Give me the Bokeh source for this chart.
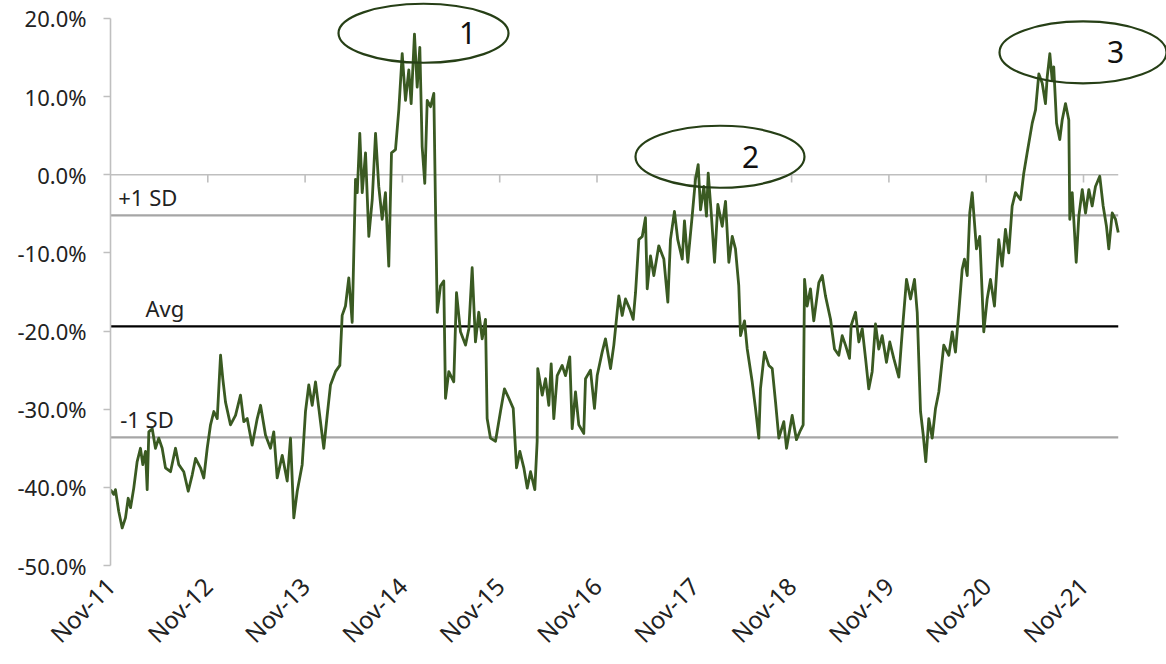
import math
from bokeh.plotting import figure
from bokeh.models import FixedTicker, PrintfTickFormatter
from bokeh.core.properties import value
from bokeh.embed import file_html
from bokeh.resources import INLINE

# ---- data (years since Nov-2011, relative valuation %) ----
t = [0.000, 0.034, 0.051, 0.085, 0.120, 0.154, 0.182, 0.206, 0.239, 0.274, 0.308, 0.332, 0.360, 0.377,
     0.394, 0.429, 0.462, 0.496, 0.531, 0.565, 0.617, 0.668, 0.702, 0.753, 0.799, 0.840, 0.874, 0.925,
     0.959, 0.994, 1.028, 1.062, 1.097, 1.131, 1.154, 1.182, 1.233, 1.285, 1.336, 1.370, 1.405, 1.456,
     1.508, 1.542, 1.593, 1.644, 1.678, 1.713, 1.765, 1.816, 1.850, 1.884, 1.919,
     1.970, 2.004, 2.038, 2.073, 2.107, 2.141, 2.192, 2.227, 2.261, 2.312, 2.357, 2.381, 2.415, 2.449,
     2.484, 2.518, 2.536, 2.562, 2.587, 2.621, 2.655, 2.690, 2.724, 2.757, 2.792, 2.826, 2.860, 2.888,
     2.929, 2.963, 2.998, 3.032, 3.066, 3.090, 3.124, 3.152, 3.179, 3.203, 3.230, 3.255, 3.289, 3.323,
     3.340, 3.358, 3.392, 3.425,
     3.443, 3.477, 3.528, 3.556, 3.597, 3.649, 3.683, 3.717, 3.751, 3.785, 3.820, 3.854, 3.871, 3.905,
     3.957, 4.008, 4.049, 4.094, 4.139, 4.173, 4.207, 4.248, 4.283, 4.317, 4.361, 4.385, 4.391, 4.437,
     4.471, 4.505, 4.529, 4.556, 4.591, 4.642, 4.676, 4.720, 4.745, 4.779, 4.813, 4.864, 4.882, 4.933,
     4.974, 5.002, 5.053, 5.087, 5.139, 5.173,
     5.224, 5.259, 5.293, 5.337, 5.372, 5.396, 5.430, 5.465, 5.498, 5.516, 5.550, 5.584, 5.635, 5.687,
     5.728, 5.755, 5.796, 5.830, 5.876, 5.899, 5.933, 5.978, 6.012, 6.040, 6.064, 6.098, 6.125, 6.143,
     6.174, 6.208, 6.242, 6.287, 6.321, 6.355, 6.390, 6.423, 6.457, 6.475, 6.516, 6.544, 6.595, 6.629,
     6.663, 6.680, 6.721, 6.766, 6.801, 6.835, 6.869,
     6.920, 6.948, 7.006, 7.050, 7.091, 7.119, 7.133, 7.160, 7.194, 7.228, 7.280, 7.315, 7.348, 7.400,
     7.441, 7.485, 7.520, 7.554, 7.595, 7.612, 7.657, 7.691, 7.726, 7.760, 7.793, 7.828, 7.862, 7.896,
     7.931, 7.975, 8.009, 8.050, 8.102, 8.137, 8.181, 8.222, 8.263, 8.291, 8.325, 8.353, 8.379, 8.410,
     8.445, 8.479, 8.513,
     8.564, 8.616, 8.651, 8.684, 8.718, 8.753, 8.777, 8.805, 8.831, 8.856, 8.872, 8.900, 8.934, 8.975,
     9.010, 9.044, 9.085, 9.129, 9.164, 9.198, 9.232, 9.267, 9.301, 9.353, 9.386, 9.421, 9.473, 9.507,
     9.541, 9.576, 9.609, 9.627, 9.654, 9.678, 9.694, 9.723, 9.756, 9.781, 9.815, 9.849, 9.859, 9.884,
     9.900, 9.925, 9.952, 9.987, 10.021, 10.055, 10.089, 10.123, 10.167, 10.202, 10.236, 10.260, 10.295,
     10.329, 10.357]

v = [-40.3, -40.9, -40.3, -43.1, -45.2, -43.9, -41.4, -42.6, -40.1, -36.7, -35.0, -37.1, -35.4, -40.3,
     -32.9, -32.5, -35.0, -33.7, -35.0, -37.5, -38.0, -35.0, -37.1, -38.0, -40.5, -38.4, -36.3, -37.5,
     -38.8, -35.0, -32.0, -30.3, -31.2, -23.1, -26.1, -29.1, -32.0, -30.8, -28.2, -31.6, -31.2, -34.6,
     -31.2, -29.5, -33.3, -35.0, -32.9, -38.8, -35.9, -39.2, -33.7, -43.9, -40.5,
     -37.1, -30.3, -26.9, -29.5, -26.5, -29.9, -35.0, -30.8, -26.9, -25.2, -24.4, -18.0, -16.8, -13.2,
     -18.9, -0.6, -2.3, 5.3, -2.3, 2.8, -7.9, -3.2, 5.3, -1.5, -5.7, -2.3, -11.7, 2.8,
     3.2, 8.3, 15.5, 9.5, 13.4, 9.1, 18.0, 11.2, 16.3, 3.6, -1.1, 9.5, 8.7, 10.4,
     -4.0, -17.6, -14.2, -13.6,
     -28.6, -25.2, -26.5, -15.1, -20.1, -21.8, -19.7, -11.9, -21.4, -17.6, -21.0, -18.5, -31.2, -33.7,
     -34.1, -30.3, -27.4, -28.6, -29.9, -37.5, -35.4, -37.5, -40.1, -38.0, -40.3, -34.1, -24.8, -28.2,
     -26.1, -29.5, -24.2, -31.2, -25.7, -24.4, -25.7, -23.3, -32.5, -27.8, -32.0, -33.1, -26.1, -25.0,
     -29.9, -25.7, -22.7, -21.0, -24.8, -21.8,
     -15.5, -18.0, -15.9, -17.2, -18.5, -15.1, -8.3, -7.9, -5.5, -14.6, -10.4, -12.9, -9.1, -10.8,
     -16.3, -8.3, -4.7, -8.3, -10.8, -5.9, -11.2, -5.3, -0.6, 1.3, -4.5, -1.5, -5.3, 0.2,
     -4.9, -11.2, -3.8, -6.6, -3.4, -11.2, -7.9, -9.5, -14.2, -20.6, -18.7, -22.3, -26.5, -29.9,
     -33.7, -27.4, -22.7, -24.4, -24.8, -29.1, -33.7,
     -31.6, -35.0, -30.8, -33.9, -32.7, -32.0, -13.4, -16.8, -14.6, -18.7, -13.8, -12.9, -15.5, -18.5,
     -22.3, -23.1, -20.6, -21.8, -23.5, -19.3, -17.6, -21.4, -19.7, -23.5, -27.4, -25.2, -19.1, -22.3,
     -20.6, -24.0, -21.4, -23.5, -25.9, -20.1, -13.4, -15.9, -13.4, -17.6, -30.3, -33.3, -36.7, -31.2,
     -33.7, -29.9, -27.8,
     -21.8, -23.1, -20.1, -22.7, -17.6, -12.1, -10.8, -12.9, -4.9, -2.3, -4.9, -9.5, -7.9, -20.1,
     -15.9, -13.4, -16.8, -8.3, -11.7, -7.0, -10.0, -4.0, -2.3, -3.2, 0.2, 2.8, 6.6, 8.3,
     12.9, 11.7, 9.1, 12.5, 15.5, 12.1, 13.8, 6.6, 4.5, 7.0, 9.1, 7.0, -5.7, -2.3,
     -5.7, -11.2, -5.3, -1.9, -4.9, -1.9, -4.0, -1.5, -0.2, -4.0, -6.6, -9.5, -4.9,
     -5.7, -7.4]

avg = -19.4
sd = 14.2
x_ticks = [0, 1, 2, 3, 4, 5, 6, 7, 8, 9, 10]
x_tick_labels = ["Nov-11", "Nov-12", "Nov-13", "Nov-14", "Nov-15", "Nov-16",
                 "Nov-17", "Nov-18", "Nov-19", "Nov-20", "Nov-21"]
y_ticks = [-50, -40, -30, -20, -10, 0, 10, 20]

# annotations: highlighted peaks
peak_x = [3.217, 6.264, 9.995]
peak_y = [18.1, 2.3, 15.65]
peak_labels = ["1", "2", "3"]
peak_label_x = [3.669, 6.578, 10.329]

band_labels = ["+1 SD", "Avg", "-1 SD"]
band_label_x = [0.08, 0.36, 0.10]

FONT = "Noto Sans"
LINE_GREEN = "#3A5A22"
ELL_GREEN = "#263F16"
GRAY = "#BFBFBF"
SD_GRAY = "#A6A6A6"

t0, t1 = min(t), max(t)

p = figure(width=1166, height=664, output_backend="svg", toolbar_location=None,
           x_range=(0, 10.853), y_range=(-50, 22.29),
           min_border_left=110, min_border_right=0, min_border_top=0, min_border_bottom=96)
p.outline_line_color = None
p.grid.grid_line_color = None
p.background_fill_color = "white"
p.border_fill_color = "white"

# zero line (category axis crossing) with tick marks
p.line([t0, t1], [0, 0], line_color=GRAY, line_width=1.6)
p.segment(x0=x_ticks[1:], y0=[0] * (len(x_ticks) - 1), x1=x_ticks[1:], y1=[-1.0] * (len(x_ticks) - 1),
          line_color=GRAY, line_width=1.6)

# SD bands and average
p.line([t0, t1], [avg + sd, avg + sd], line_color=SD_GRAY, line_width=2.2)
p.line([t0, t1], [avg - sd, avg - sd], line_color=SD_GRAY, line_width=2.2)
p.line([t0, t1], [avg, avg], line_color="black", line_width=2.2)

# series
p.line(t, v, line_color=LINE_GREEN, line_width=2.8, line_join="round")

# band labels
p.text(x=band_label_x, y=[avg + sd, avg, avg - sd], text=band_labels,
       text_font=value(FONT), text_font_size="22px", text_color="#222222",
       text_baseline="bottom", text_align="left", y_offset=-3)

# ellipses + numbers
p.ellipse(x=peak_x, y=peak_y, width=[170, 169, 167], height=[59, 62, 62],
          width_units="screen", height_units="screen",
          fill_color=None, line_color=ELL_GREEN, line_width=2.2)
p.text(x=peak_label_x, y=peak_y, text=peak_labels,
       text_font=value(FONT), text_font_size="30px", text_color="#111111",
       text_baseline="middle", text_align="center")

# y axis
ya = p.yaxis[0]
ya.ticker = FixedTicker(ticks=y_ticks)
ya.formatter = PrintfTickFormatter(format="%.1f%%")
ya.bounds = (-50, 20)
ya.axis_line_color = GRAY
ya.axis_line_width = 1.6
ya.major_tick_line_color = GRAY
ya.major_tick_line_width = 1.6
ya.major_tick_out = 7
ya.major_tick_in = 0
ya.minor_tick_line_color = None
ya.major_label_standoff = 17
ya.major_label_text_font = FONT
ya.major_label_text_font_size = "22px"
ya.major_label_text_color = "#222222"

# x axis (labels only, at bottom)
xa = p.xaxis[0]
xa.ticker = FixedTicker(ticks=x_ticks)
xa.major_label_overrides = {k: lab for k, lab in zip(x_ticks, x_tick_labels)}
xa.major_label_orientation = math.pi / 4
xa.axis_line_color = None
xa.major_tick_line_color = None
xa.minor_tick_line_color = None
xa.major_label_standoff = 10
xa.major_label_text_font = FONT
xa.major_label_text_font_size = "24px"
xa.major_label_text_color = "#222222"

open("out.html", "w").write(file_html(p, INLINE))
